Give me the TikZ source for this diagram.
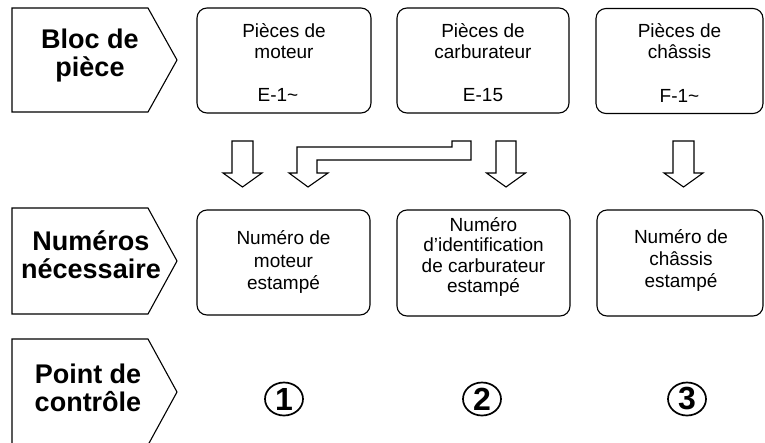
\documentclass[tikz,border=0pt]{standalone}
\usepackage{fontspec}
\setmainfont{Liberation Sans}
\usetikzlibrary{shapes.geometric}
\begin{document}
\begin{tikzpicture}[x=1pt,y=-1pt,
 lbl/.style={font=\fontsize{27}{28}\selectfont\bfseries, align=center, inner sep=0pt},
 boxtxt/.style={font=\fontsize{19}{21}\selectfont, align=center, inner sep=0pt},
 tagshape/.style={draw=black, line width=1.1pt, line join=miter},
 rbox/.style={draw=black, line width=1.1pt, rounded corners=10pt, inner sep=0pt},
 barrow/.style={draw=black, line width=1.1pt, fill=white, line join=miter},
 circnum/.style={draw=black, line width=1.7pt, ellipse, minimum width=38pt, minimum height=33pt, inner sep=0pt, font=\fontsize{32}{32}\selectfont\bfseries}]
\useasboundingbox (0,0) rectangle (765,442);
\clip (0,0) rectangle (765,442);

% row labels
\draw[tagshape] (12,8) -- (148,8) -- (177,60) -- (148,112) -- (12,112) -- cycle;
\draw[tagshape] (12,208) -- (148,208) -- (177,261) -- (148,314) -- (12,314) -- cycle;
\draw[tagshape] (12,445) -- (12,339) -- (148,339) -- (177,392) -- (148,445);
\node[lbl] (l1) at (90,56) {Bloc de\\pièce};
\node[lbl] (l2) at (91,255) {Numéros\\nécessaire};
\node[lbl] (l3) at (88,388) {Point de\\contrôle};

% row 1 boxes
\node[rbox, minimum width=174pt, minimum height=105pt] (a1) at (284,60.5) {};
\node[rbox, minimum width=172pt, minimum height=105pt] (a2) at (483,60.5) {};
\node[rbox, minimum width=167pt, minimum height=105pt] (a3) at (679.5,61) {};
\node[boxtxt] (a1t) at (284,41) {Pièces de\\moteur};
\node[boxtxt] (a2t) at (483,41) {Pièces de\\carburateur};
\node[boxtxt] (a3t) at (679.5,41) {Pièces de\\châssis};
\node[boxtxt] (a1c) at (278,95) {E-1\char`~};
\node[boxtxt] (a2c) at (483,95) {E-15};
\node[boxtxt] (a3c) at (679.5,96) {F-1\char`~};

% row 2 boxes
\node[rbox, minimum width=173pt, minimum height=105pt] (b1) at (283.5,262.5) {};
\node[rbox, minimum width=173pt, minimum height=106pt] (b2) at (483.5,263) {};
\node[rbox, minimum width=166pt, minimum height=106pt] (b3) at (680,263) {};
\node[boxtxt, font=\fontsize{19}{22.5}\selectfont] (b1t) at (283.5,262) {Numéro de\\moteur\\estampé};
\node[boxtxt, font=\fontsize{19}{20.5}\selectfont] (b2t) at (483.5,257) {Numéro\\d'identification\\de carburateur\\estampé};
\node[boxtxt, font=\fontsize{19}{22}\selectfont] (b3t) at (681,260) {Numéro de\\châssis\\estampé};

% block arrows
\draw[barrow] (232,141) -- (253,141) -- (253,173) -- (262,173) -- (242.5,187) -- (223,173) -- (232,173) -- cycle;
\draw[barrow] (452,141) -- (471,141) -- (471,160) -- (317,160) -- (317,173) -- (328,173) -- (308,187) -- (289,173) -- (297,173) -- (297,147) -- (452,147) -- cycle;
\draw[barrow] (496,141) -- (516,141) -- (516,173) -- (525.5,173) -- (506,187) -- (486.5,173) -- (496,173) -- cycle;
\draw[barrow] (673,141) -- (694,141) -- (694,173) -- (703,173) -- (683.5,187) -- (664,173) -- (673,173) -- cycle;

% circled numbers
\node[circnum] (c1) at (284,399) {1};
\node[circnum] (c2) at (482,399) {2};
\node[circnum] (c3) at (687,399) {3};
\end{tikzpicture}
\end{document}
